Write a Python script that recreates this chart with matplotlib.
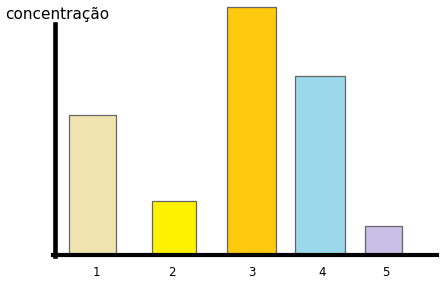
import matplotlib.pyplot as plt

# data
categorias = ['1', '2', '3', '4', '5']
concentracao = [140, 54, 248, 179, 29]
cores = ['#EFE4B0', '#FFF200', '#FFC90E', '#99D9EA', '#C8BFE7']

# layout (pixel-ish units from the left axis line)
centros = [37.5, 119, 196.5, 265, 328.5]
larguras = [47, 44, 49, 50, 37]
pos_rotulos = [41, 117, 197, 267, 331]

W, H = 445, 282
fig = plt.figure(figsize=(W/100, H/100), dpi=100)
ax = fig.add_axes([55/W, (H-255)/H, 382/W, 250/H])

ax.bar(centros, concentracao, width=larguras, color=cores,
       edgecolor='#666666', linewidth=0.9, zorder=2)

ax.set_xlim(0, 382)
ax.set_ylim(0, 250)
ax.set_xticks(pos_rotulos)
ax.set_xticklabels(categorias, fontsize=8.5)
ax.set_yticks([])
ax.tick_params(axis='x', length=0, pad=8)

for s in ['top', 'right']:
    ax.spines[s].set_visible(False)
ax.spines['left'].set_linewidth(3.3)
ax.spines['bottom'].set_linewidth(3)
ax.spines['left'].set_bounds(-1, 231)
ax.spines['bottom'].set_bounds(-2, 382)
ax.spines['left'].set_zorder(3)
ax.spines['bottom'].set_zorder(3)

fig.text(5/W, 1 - 14/H, 'concentração', fontsize=11, va='center', ha='left')

fig.savefig('out.png', dpi=100)
